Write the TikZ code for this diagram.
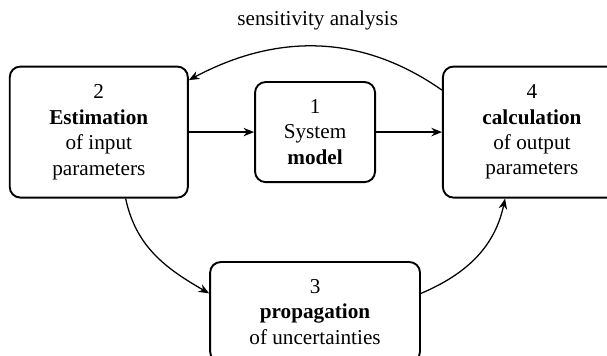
\documentclass[tikz,border=0pt]{standalone}
\usepackage{fontspec}
\setmainfont{Liberation Serif}
\usetikzlibrary{positioning,arrows.meta}

\begin{document}
\begin{tikzpicture}[node distance=30.8pt,
    box/.style = {draw, line width=0.9pt, rounded corners=5pt, align=center, inner sep=2pt},
    flow/.style = {line width=0.6pt, -{Stealth[length=5pt,width=4pt]}}]
    \useasboundingbox (-148.6pt,62.3pt) rectangle (137.7pt,-105.2pt);

    \node[box, minimum width=56.6pt, minimum height=47.2pt] (1) {1\\System\\\textbf{model}};
    \node[box, minimum width=84pt, minimum height=61.8pt] (2) [left=of 1] {2\\\textbf{Estimation}\\of input\\parameters};
    \node[box, minimum width=84pt, minimum height=61.8pt] (4) [right=31.1pt of 1] {4\\\textbf{calculation}\\of output\\parameters};
    \node[box, minimum width=99pt, minimum height=47.2pt] (3) [below=36.8pt of 1] {3\\\textbf{propagation}\\of uncertainties};

    \draw[flow] (2) -- (1);
    \draw[flow] (1) -- (4);
    \draw[flow] (4.155) to[out=145, in=28] node[above=4pt] (sa) {sensitivity analysis} (2.30);
    \draw[flow] (2.-68) to[out=-78, in=150] (3.170);
    \draw[flow] (3.10) to[out=23, in=-102] (4.-112);

\end{tikzpicture}
\end{document}
